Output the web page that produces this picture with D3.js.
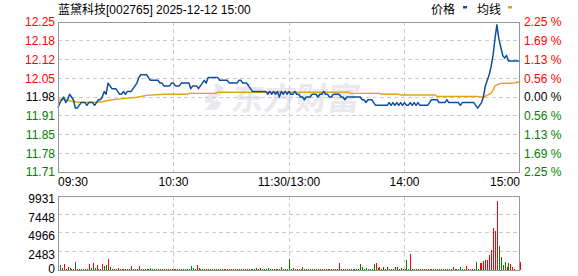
<!DOCTYPE html>
<html><head><meta charset="utf-8">
<script src="https://cdn.jsdelivr.net/npm/d3@7"></script>
<style>
html,body{margin:0;padding:0;background:#fff;}
svg{display:block;font-family:"Liberation Sans","Noto Sans CJK SC",sans-serif;}
</style>
</head><body>
<svg id="c" width="578" height="276"></svg>
<script>
// ---------- data ----------
const title = "蓝黛科技[002765] 2025-12-12 15:00";
const legendLabels = ["价格", "均线"];
const prevClose = 11.98;
const timeLabels = ["09:30", "10:30", "11:30/13:00", "14:00", "15:00"];
const timeLabelMinutes = [0, 60, 120, 180, 240];
const priceTicks = [12.25, 12.1825, 12.115, 12.0475, 11.98, 11.9125, 11.845, 11.7775, 11.71];
const priceTickLabels = ["12.25", "12.18", "12.12", "12.05", "11.98", "11.91", "11.85", "11.78", "11.71"];
const pctTickLabels = ["2.25 %", "1.69 %", "1.13 %", "0.56 %", "0.00 %", "0.56 %", "1.13 %", "1.69 %", "2.25 %"];
const volumeTicks = [9931, 7448, 4966, 2483, 0];

// price per minute (241 points, 09:30 .. 15:00)
const price = [
  11.94, 11.96, 11.97, 11.98, 11.96, 11.97, 11.99, 11.98, 11.97, 11.94,
  11.94, 11.95, 11.96, 11.96, 11.96, 11.95, 11.96, 11.96, 11.96, 11.95,
  11.96, 11.97, 11.97, 11.98, 12.00, 11.99, 12.03, 12.02, 12.01, 12.01,
  12.01, 12.00, 11.99, 11.99, 12.00, 11.99, 12.00, 12.00, 12.00, 12.01,
  12.02, 12.03, 12.05, 12.06, 12.06, 12.06, 12.06, 12.05, 12.04, 12.04,
  12.04, 12.04, 12.04, 12.03, 12.03, 12.02, 12.02, 12.02, 12.02, 12.03,
  12.03, 12.02, 12.02, 12.02, 12.03, 12.03, 12.03, 12.03, 12.03, 12.01,
  12.02, 12.02, 12.02, 12.01, 12.02, 12.03, 12.04, 12.03, 12.05, 12.05,
  12.05, 12.05, 12.05, 12.05, 12.04, 12.04, 12.04, 12.04, 12.04, 12.03,
  12.03, 12.03, 12.03, 12.03, 12.04, 12.04, 12.03, 12.03, 12.03, 12.02,
  12.01, 12.00, 12.00, 12.00, 12.00, 12.00, 12.00, 12.00, 12.00, 11.99,
  12.00, 11.99, 12.00, 11.99, 12.00, 11.98, 12.00, 11.99, 12.00, 11.99,
  12.00, 11.99, 11.99, 12.00, 11.99, 11.99, 11.98, 11.98, 11.97, 11.98,
  11.98, 11.98, 11.99, 11.99, 11.99, 11.98, 11.99, 11.99, 12.00, 11.99,
  11.99, 11.98, 11.98, 11.99, 11.99, 11.99, 11.99, 11.98, 11.98, 11.97,
  11.98, 11.98, 11.98, 11.98, 11.98, 11.98, 11.98, 11.98, 11.97, 11.97,
  11.96, 11.97, 11.97, 11.97, 11.96, 11.95, 11.95, 11.95, 11.95, 11.95,
  11.95, 11.95, 11.96, 11.95, 11.96, 11.95, 11.96, 11.95, 11.96, 11.95,
  11.96, 11.95, 11.95, 11.96, 11.95, 11.96, 11.95, 11.96, 11.95, 11.95,
  11.95, 11.95, 11.95, 11.96, 11.97, 11.97, 11.97, 11.97, 11.96, 11.96,
  11.96, 11.96, 11.97, 11.96, 11.96, 11.96, 11.96, 11.96, 11.96, 11.95,
  11.96, 11.96, 11.96, 11.96, 11.96, 11.96, 11.96, 11.95, 11.94, 11.95,
  11.96, 11.98, 12.02, 12.04, 12.06, 12.09, 12.13, 12.19, 12.24, 12.19,
  12.16, 12.13, 12.12, 12.13, 12.11, 12.11, 12.11, 12.11, 12.11, 12.11, 12.11
];

// average price line, read at these minutes
const avgMinutes = [0, 2, 8, 10, 20, 23, 27, 34, 41, 46, 55, 67, 68, 82, 83, 151, 152, 167, 168, 177, 178, 196, 197, 218, 219, 221, 222, 223, 225, 226, 227, 229, 230, 237, 238, 240];
const avgValues  = [11.970, 11.972, 11.964, 11.961, 11.961, 11.963, 11.969, 11.974, 11.979, 11.986, 11.990, 11.990, 11.993, 11.993, 11.997, 11.997, 11.993, 11.993, 11.990, 11.990, 11.987, 11.987, 11.982, 11.982, 11.980, 11.980, 11.982, 11.987, 11.994, 12.005, 12.020, 12.026, 12.029, 12.030, 12.033, 12.033];

// volume per minute (241 bars)
const volume = [
  300, 678, 316, 860, 180, 407, 271, 180, 135, 1085,
  135, 135, 135, 135, 135, 90, 860, 226, 994, 226,
  723, 180, 135, 860, 587, 723, 1537, 452, 135, 135,
  135, 271, 135, 135, 135, 135, 135, 135, 587, 135,
  135, 135, 587, 180, 135, 135, 135, 135, 316, 135,
  135, 90, 135, 135, 90, 135, 135, 90, 135, 135,
  135, 135, 90, 135, 135, 135, 135, 135, 135, 542,
  271, 135, 678, 226, 135, 135, 135, 90, 135, 135,
  135, 135, 90, 135, 135, 135, 135, 135, 90, 135,
  135, 135, 135, 90, 135, 135, 135, 135, 135, 135,
  135, 135, 135, 226, 135, 226, 135, 135, 135, 226,
  135, 135, 135, 135, 135, 135, 452, 135, 135, 135,
  1491, 135, 316, 135, 135, 135, 135, 407, 135, 135,
  135, 90, 135, 135, 90, 135, 135, 135, 90, 135,
  135, 135, 135, 135, 135, 135, 950, 135, 135, 135,
  135, 135, 135, 135, 135, 135, 135, 813, 407, 135,
  271, 135, 135, 135, 813, 950, 316, 452, 135, 407,
  135, 452, 135, 135, 135, 407, 452, 135, 316, 135,
  135, 1356, 135, 2170, 135, 135, 135, 135, 135, 135,
  135, 135, 90, 135, 135, 135, 90, 135, 135, 135,
  135, 135, 135, 135, 135, 407, 135, 135, 135, 407,
  100, 100, 542, 100, 100, 100, 100, 1085, 100, 950,
  950, 1220, 1356, 1356, 2034, 2712, 5695, 5288, 9266, 3254,
  1763, 678, 1085, 407, 950, 814, 407, 100, 0, 50, 1085
];
// minutes whose volume bar is green (price down)
const downBars = [1, 4, 5, 7, 9, 11, 19, 21, 24, 25, 27, 48, 69, 70, 102, 109, 116, 120, 122, 127, 157, 160, 164, 181, 209, 217, 218, 229, 230, 231, 232, 234];

// ---------- drawing ----------
const svg = d3.select("#c");
const L = 58, R = 520, PT = 22, PB = 172, VT = 196, VB = 270;
const UP = "#ff0000", DOWN = "#008000", FLAT = "#000000";
const GRID = "#cccccc", FRAME = "#959595";
const crisp = v => Math.floor(v) + 0.5;

const x = d3.scaleLinear().domain([0, 240]).range([L, R]);
const y = d3.scaleLinear().domain([11.71, 12.25]).range([PB, PT]);
const vy = d3.scaleLinear().domain([0, 9931]).range([VB, VT]);
const colorOf = v => Math.abs(v - prevClose) < 1e-9 ? FLAT : (v > prevClose ? UP : DOWN);

// watermark
const wm = svg.append("g").attr("fill", "#e9e9ed");
wm.append("path").attr("d", "M214,84 C226,84 226,92 218,97 L212,101 C222,99 224,104 216,110 L204,110 C212,104 212,101 205,103 L206,96 C214,93 218,89 214,84 Z");
wm.append("text").attr("x", 232).attr("y", 110).attr("font-size", 32).attr("font-weight", "bold")
  .attr("font-family", "'Noto Sans CJK SC'").attr("transform", "skewX(-8) translate(14,0)").text("东方财富");

// grid
const g = svg.append("g").attr("stroke", GRID).attr("stroke-dasharray", "4,3").attr("shape-rendering", "crispEdges");
priceTicks.slice(1, -1).forEach(t => {
  g.append("line").attr("x1", L).attr("x2", R).attr("y1", crisp(y(t))).attr("y2", crisp(y(t)));
});
[60, 120, 180].forEach(m => {
  g.append("line").attr("x1", crisp(x(m))).attr("x2", crisp(x(m))).attr("y1", PT).attr("y2", PB);
  g.append("line").attr("x1", crisp(x(m))).attr("x2", crisp(x(m))).attr("y1", VT).attr("y2", VB);
});
volumeTicks.slice(1, -1).forEach(t => {
  g.append("line").attr("x1", L).attr("x2", R).attr("y1", crisp(vy(t))).attr("y2", crisp(vy(t)));
});

// volume bars
const downSet = new Set(downBars);
svg.append("g").attr("shape-rendering", "crispEdges").selectAll("rect").data(volume).join("rect")
  .attr("x", (d, i) => Math.round(x(i)))
  .attr("width", 1)
  .attr("y", d => vy(d))
  .attr("height", d => vy(0) - vy(d))
  .attr("fill", (d, i) => downSet.has(i) ? DOWN : UP);

// avg line
svg.append("path")
  .datum(avgMinutes.map((m, i) => [m, avgValues[i]]))
  .attr("fill", "none").attr("stroke", "#e0a416").attr("stroke-width", 1.4)
  .attr("d", d3.line().x(d => x(d[0])).y(d => y(d[1])));

// price line
svg.append("path")
  .datum(price)
  .attr("fill", "none").attr("stroke", "#0d4fa0").attr("stroke-width", 1.5)
  .attr("stroke-linejoin", "round")
  .attr("d", d3.line().x((d, i) => x(i)).y(d => y(d)));

// frames
svg.append("rect").attr("x", L + 0.5).attr("y", PT + 0.5).attr("width", R - L - 1).attr("height", PB - PT)
  .attr("fill", "none").attr("stroke", FRAME);
svg.append("rect").attr("x", L + 0.5).attr("y", VT + 0.5).attr("width", R - L - 1).attr("height", VB - VT)
  .attr("fill", "none").attr("stroke", FRAME);

// axes
const fs = 12;
const leftAx = svg.append("g").attr("transform", `translate(${L},0)`)
  .call(d3.axisLeft(y).tickValues(priceTicks).tickFormat((d, i) => priceTickLabels[i]).tickSize(0).tickPadding(3));
leftAx.select(".domain").remove();
leftAx.selectAll("text").attr("font-size", fs).attr("font-family", "'Liberation Sans'")
  .attr("fill", d => colorOf(d));

const rightAx = svg.append("g").attr("transform", `translate(${R},0)`)
  .call(d3.axisRight(y).tickValues(priceTicks).tickFormat((d, i) => pctTickLabels[i]).tickSize(0).tickPadding(4));
rightAx.select(".domain").remove();
rightAx.selectAll("text").attr("font-size", fs).attr("font-family", "'Liberation Sans'")
  .attr("fill", d => colorOf(d));

const volAx = svg.append("g").attr("transform", `translate(${L},0)`)
  .call(d3.axisLeft(vy).tickValues(volumeTicks).tickFormat(d3.format("d")).tickSize(0).tickPadding(3));
volAx.select(".domain").remove();
volAx.selectAll("text").attr("font-size", fs).attr("font-family", "'Liberation Sans'").attr("fill", "#000")
  .attr("dy", d => d === 0 ? "0.2em" : "0.55em");

// time labels
svg.append("g").selectAll("text").data(timeLabels).join("text")
  .attr("x", (d, i) => x(timeLabelMinutes[i]))
  .attr("y", 186)
  .attr("font-size", fs).attr("font-family", "'Liberation Sans'").attr("fill", "#000")
  .attr("text-anchor", (d, i) => i === 0 ? "start" : (i === timeLabels.length - 1 ? "end" : "middle"))
  .text(d => d);

// title
svg.append("text").attr("x", 58).attr("y", 14).attr("font-size", 12).attr("fill", "#000").text(title);

// legend
svg.append("text").attr("x", 431).attr("y", 14).attr("font-size", 12).attr("fill", "#000").text(legendLabels[0]);
svg.append("rect").attr("x", 463).attr("y", 6).attr("width", 4).attr("height", 2.5).attr("fill", "#0d4fa0");
svg.append("text").attr("x", 477).attr("y", 14).attr("font-size", 12).attr("fill", "#000").text(legendLabels[1]);
svg.append("rect").attr("x", 508).attr("y", 6).attr("width", 4).attr("height", 2.5).attr("fill", "#e0a416");
</script>
</body></html>
